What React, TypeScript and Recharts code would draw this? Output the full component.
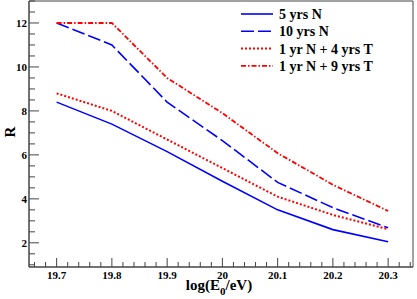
import { Label, Legend, Line, LineChart, ReferenceArea, XAxis, YAxis } from "recharts";

const energies = [19.7, 19.8, 19.9, 20.0, 20.1, 20.2, 20.3];
const fiveYrsN = [8.4, 7.4, 6.15, 4.8, 3.5, 2.6, 2.05];
const tenYrsN = [12.0, 11.0, 8.4, 6.65, 4.75, 3.6, 2.68];
const oneN4T = [8.8, 8.0, 6.7, 5.4, 4.1, 3.27, 2.62];
const oneN9T = [12.0, 12.0, 9.5, 7.9, 6.08, 4.64, 3.45];

const seriesNames = ["5 yrs N", "10 yrs N", "1 yr N + 4 yrs T", "1 yr N + 9 yrs T"];

const xDomain: [number, number] = [19.65, 20.345];
const yDomain: [number, number] = [0.9, 13];

const FONT = '"Liberation Serif", "Times New Roman", serif';
const AXIS = "#444";

// minor ticks every 0.02 on x, every 0.5 on y
const xTicks: number[] = [];
for (let i = 983; i <= 1017; i++) xTicks.push(i / 50);
const yTicks: number[] = [];
for (let i = 2; i <= 26; i++) yTicks.push(i / 2);

const data = energies.map((e, i) => ({
  e,
  fiveN: fiveYrsN[i],
  tenN: tenYrsN[i],
  n4t: oneN4T[i],
  n9t: oneN9T[i],
}));

const series = [
  { key: "fiveN", name: seriesNames[0], color: "#0000ff", dash: undefined, width: 1.6 },
  { key: "tenN", name: seriesNames[1], color: "#0000ff", dash: "13 4", width: 1.6 },
  { key: "n4t", name: seriesNames[2], color: "#ff0000", dash: "2 2", width: 2 },
  { key: "n9t", name: seriesNames[3], color: "#ff0000", dash: "5 2 1.5 2", width: 1.8 },
];

const isMajorX = (v: number) => Math.abs(Math.round(v * 10) - v * 10) < 1e-6;

function XTick({ x, y, payload }: any) {
  const v = payload.value as number;
  const major = isMajorX(v);
  return (
    <g>
      <line x1={x} y1={y} x2={x} y2={y - (major ? 9 : 5)} stroke={AXIS} strokeWidth={1} />
      {major && (
        <text x={x} y={y + 12} textAnchor="middle" fontFamily={FONT} fontWeight="bold" fontSize={11} fill="#000">
          {String(Number(v.toFixed(1)))}
        </text>
      )}
    </g>
  );
}

function YTick({ x, y, payload }: any) {
  const v = payload.value as number;
  const major = v % 2 === 0;
  return (
    <g>
      <line x1={x} y1={y} x2={x + (major ? 10 : 6)} y2={y} stroke={AXIS} strokeWidth={1} />
      {major && (
        <text x={x - 2} y={y + 4} textAnchor="end" fontFamily={FONT} fontWeight="bold" fontSize={11} fill="#000">
          {v}
        </text>
      )}
    </g>
  );
}

function LegendBox() {
  return (
    <svg width={175} height={72}>
      {series.map((s, i) => {
        const y = 10 + i * 17.3;
        return (
          <g key={s.key}>
            <line x1={3} x2={35} y1={y} y2={y} stroke={s.color} strokeWidth={s.width} strokeDasharray={s.dash} />
            <text x={41} y={y + 5} fontFamily={FONT} fontWeight="bold" fontSize={14} fill="#000">
              {s.name}
            </text>
          </g>
        );
      })}
    </svg>
  );
}

export default function App() {
  return (
    <div style={{ position: "absolute", left: 0, top: 0, background: "#fff" }}>
      <LineChart width={417} height={299} data={data} margin={{ top: 1, right: 4, bottom: 0, left: 0 }}>
        <ReferenceArea x1={xDomain[0]} x2={xDomain[1]} y1={yDomain[0]} y2={yDomain[1]} fill="none" stroke={AXIS} strokeWidth={1} ifOverflow="visible" />
        <XAxis
          dataKey="e"
          type="number"
          domain={xDomain}
          ticks={xTicks}
          interval={0}
          allowDataOverflow
          height={32}
          tickSize={0}
          tickMargin={0}
          tickLine={false}
          axisLine={{ stroke: AXIS }}
          tick={<XTick />}
        >
          <Label
            content={({ viewBox }: any) => (
              <text x={viewBox.x + viewBox.width / 2 - 2} y={viewBox.y + 23} textAnchor="middle" fontFamily={FONT} fontWeight="bold" fontSize={15} fill="#000">
                log(E<tspan fontSize={11} dy={5}>0</tspan>
                <tspan dy={-5}>/eV)</tspan>
              </text>
            )}
          />
        </XAxis>
        <YAxis
          type="number"
          domain={yDomain}
          ticks={yTicks}
          interval={0}
          allowDataOverflow
          width={29}
          tickSize={0}
          tickMargin={0}
          tickLine={false}
          axisLine={{ stroke: AXIS }}
          tick={<YTick />}
        >
          <Label
            content={({ viewBox }: any) => {
              const cx = 15;
              const cy = viewBox.y + viewBox.height / 2 - 2;
              return (
                <text x={cx} y={cy} transform={`rotate(-90 ${cx} ${cy})`} textAnchor="middle" fontFamily={FONT} fontWeight="bold" fontSize={15} fill="#000">
                  R
                </text>
              );
            }}
          />
        </YAxis>
        <Legend layout="horizontal" verticalAlign="middle" wrapperStyle={{ left: 238, top: 4, width: 175, height: 72 }} content={() => <LegendBox />} />
        {series.map((s) => (
          <Line
            key={s.key}
            type="linear"
            dataKey={s.key}
            name={s.name}
            stroke={s.color}
            strokeWidth={s.width}
            strokeDasharray={s.dash}
            dot={false}
            activeDot={false}
            isAnimationActive={false}
          />
        ))}
      </LineChart>
    </div>
  );
}
